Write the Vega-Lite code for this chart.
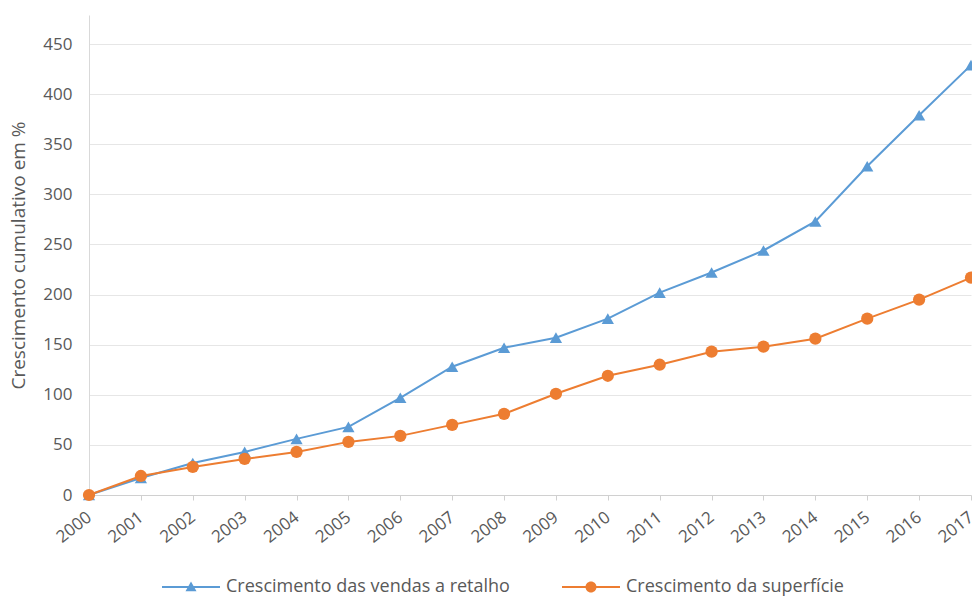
{
  "$schema": "https://vega.github.io/schema/vega-lite/v6.json",
  "width": 882,
  "height": 480,
  "autosize": {"type": "none"},
  "padding": {"left": 89, "top": 15, "right": 1, "bottom": 101},
  "background": "white",
  "config": {
    "font": "Open Sans",
    "view": {"stroke": null},
    "axis": {"labelColor": "#595959", "titleColor": "#595959", "titleFontWeight": "normal"}
  },
  "data": {
    "values": [
      {"ano": 2000, "serie": "Crescimento das vendas a retalho", "valor": 0},
      {"ano": 2001, "serie": "Crescimento das vendas a retalho", "valor": 17},
      {"ano": 2002, "serie": "Crescimento das vendas a retalho", "valor": 32},
      {"ano": 2003, "serie": "Crescimento das vendas a retalho", "valor": 43},
      {"ano": 2004, "serie": "Crescimento das vendas a retalho", "valor": 56},
      {"ano": 2005, "serie": "Crescimento das vendas a retalho", "valor": 68},
      {"ano": 2006, "serie": "Crescimento das vendas a retalho", "valor": 97},
      {"ano": 2007, "serie": "Crescimento das vendas a retalho", "valor": 128},
      {"ano": 2008, "serie": "Crescimento das vendas a retalho", "valor": 147},
      {"ano": 2009, "serie": "Crescimento das vendas a retalho", "valor": 157},
      {"ano": 2010, "serie": "Crescimento das vendas a retalho", "valor": 176},
      {"ano": 2011, "serie": "Crescimento das vendas a retalho", "valor": 202},
      {"ano": 2012, "serie": "Crescimento das vendas a retalho", "valor": 222},
      {"ano": 2013, "serie": "Crescimento das vendas a retalho", "valor": 244},
      {"ano": 2014, "serie": "Crescimento das vendas a retalho", "valor": 273},
      {"ano": 2015, "serie": "Crescimento das vendas a retalho", "valor": 328},
      {"ano": 2016, "serie": "Crescimento das vendas a retalho", "valor": 379},
      {"ano": 2017, "serie": "Crescimento das vendas a retalho", "valor": 429},
      {"ano": 2000, "serie": "Crescimento da superfície", "valor": 0},
      {"ano": 2001, "serie": "Crescimento da superfície", "valor": 19},
      {"ano": 2002, "serie": "Crescimento da superfície", "valor": 28},
      {"ano": 2003, "serie": "Crescimento da superfície", "valor": 36},
      {"ano": 2004, "serie": "Crescimento da superfície", "valor": 43},
      {"ano": 2005, "serie": "Crescimento da superfície", "valor": 53},
      {"ano": 2006, "serie": "Crescimento da superfície", "valor": 59},
      {"ano": 2007, "serie": "Crescimento da superfície", "valor": 70},
      {"ano": 2008, "serie": "Crescimento da superfície", "valor": 81},
      {"ano": 2009, "serie": "Crescimento da superfície", "valor": 101},
      {"ano": 2010, "serie": "Crescimento da superfície", "valor": 119},
      {"ano": 2011, "serie": "Crescimento da superfície", "valor": 130},
      {"ano": 2012, "serie": "Crescimento da superfície", "valor": 143},
      {"ano": 2013, "serie": "Crescimento da superfície", "valor": 148},
      {"ano": 2014, "serie": "Crescimento da superfície", "valor": 156},
      {"ano": 2015, "serie": "Crescimento da superfície", "valor": 176},
      {"ano": 2016, "serie": "Crescimento da superfície", "valor": 195},
      {"ano": 2017, "serie": "Crescimento da superfície", "valor": 217}
    ]
  },
  "encoding": {
    "x": {
      "field": "ano", "type": "quantitative",
      "scale": {"domain": [2000, 2017], "nice": false, "zero": false},
      "axis": {
        "title": null, "values": [2000,2001,2002,2003,2004,2005,2006,2007,2008,2009,2010,2011,2012,2013,2014,2015,2016,2017],
        "format": "d", "labelAngle": -38, "labelFontSize": 17, "grid": false,
        "labelAlign": "right", "labelBaseline": "middle",
        "domainColor": "#d0d0d0", "tickColor": "#d0d0d0", "tickSize": 5, "labelPadding": 15, "labelFlush": false, "labelOverlap": false
      }
    },
    "y": {
      "field": "valor", "type": "quantitative",
      "scale": {"domain": [0, 479], "nice": false},
      "axis": {
        "title": "Crescimento cumulativo em %", "titleFontSize": 19, "titlePadding": 14,
        "values": [0,50,100,150,200,250,300,350,400,450],
        "labelFontSize": 17, "labelPadding": 17, "ticks": false,
        "domainColor": "#d9d9d9", "gridColor": "#e6e6e6", "labelFlush": false
      }
    },
    "color": {
      "field": "serie", "type": "nominal",
      "scale": {"domain": ["Crescimento das vendas a retalho", "Crescimento da superfície"], "range": ["#5B9BD5", "#ED7D31"]},
      "legend": {
        "title": null, "orient": "none", "legendX": 92, "legendY": 562, "direction": "horizontal",
        "labelFontSize": 18, "labelColor": "#595959", "labelFont": "Open Sans", "labelLimit": 500,
        "symbolSize": 400, "labelOffset": 25, "columnPadding": 52,
        "symbolStrokeWidth": 0,
        "encode": {
          "symbols": {
            "update": {
              "shape": {"signal": "datum.value === 'Crescimento da superfície' ? 'M-2.9,-0.1 L2.9,-0.1 L2.9,0.1 L-2.9,0.1 Z M-0.55,0 A0.55,0.55 0 1,1 0.55,0 A0.55,0.55 0 1,1 -0.55,0 Z' : 'M-2.9,-0.1 L2.9,-0.1 L2.9,0.1 L-2.9,0.1 Z M0,-0.55 L0.55,0.42 L-0.55,0.42 Z'"},
              "fill": {"signal": "datum.value === 'Crescimento da superfície' ? '#ED7D31' : '#5B9BD5'"},
              "opacity": {"value": 1},
              "fillOpacity": {"value": 1},
              "strokeWidth": {"value": 0}
            }
          }
        }
      }
    }
  },
  "layer": [
    {
      "mark": {"type": "line", "strokeWidth": 2}
    },
    {
      "transform": [{"filter": "datum.serie === 'Crescimento das vendas a retalho'"}],
      "mark": {"type": "point", "filled": true, "opacity": 1, "shape": "triangle-up", "size": 150}
    },
    {
      "transform": [{"filter": "datum.serie === 'Crescimento da superfície'"}],
      "mark": {"type": "point", "filled": true, "opacity": 1, "shape": "circle", "size": 150}
    }
  ]
}
